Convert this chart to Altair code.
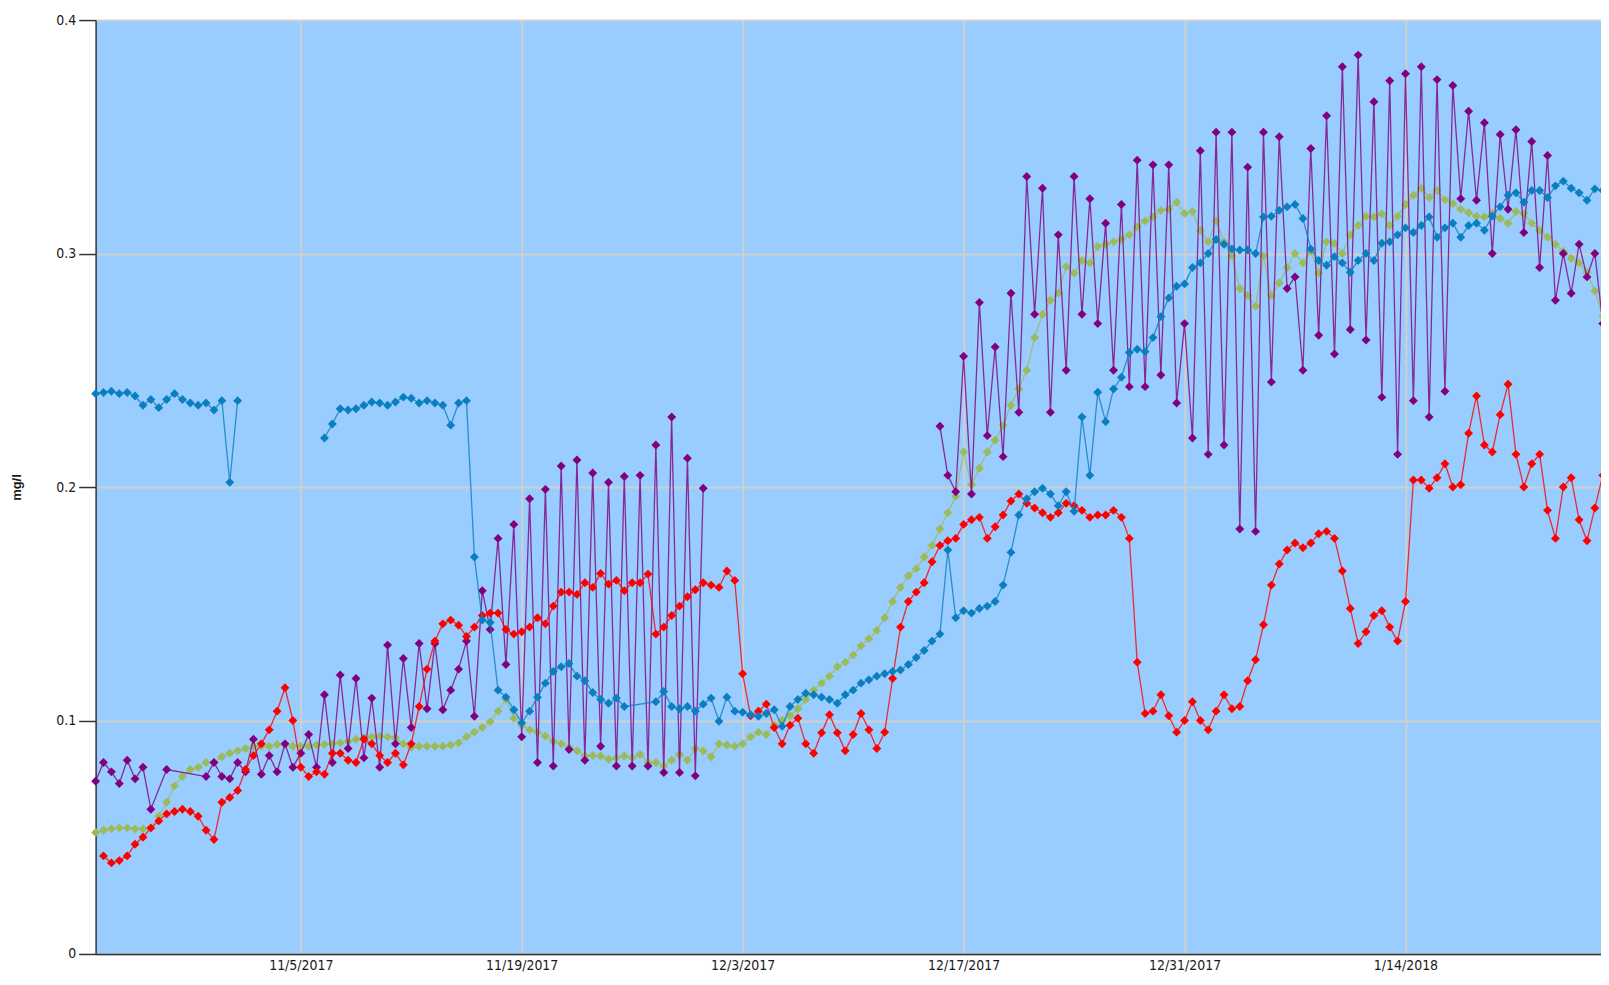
import altair as alt
import pandas as pd

# ---- data: one value every 12 hours starting 2017-10-23 00:00 (None = no reading) ----
START = pd.Timestamp("2017-10-23 00:00")
STEP_HOURS = 12

blue = [
    0.240, 0.2405, 0.241, 0.240, 0.2405, 0.239, 0.235, 0.2375, 0.234, 0.2375,
    0.240, 0.2375, 0.236, 0.235, 0.236, 0.233, 0.237, 0.202, 0.237, None,
    None, None, None, None, None, None, None, None, None, 0.221,
    0.227, 0.2335, 0.233, 0.2335, 0.235, 0.2364, 0.236, 0.235, 0.2364, 0.2385,
    0.238, 0.236, 0.237, 0.236, 0.235, 0.2265, 0.236, 0.237, 0.170, 0.143,
    0.142, 0.113, 0.110, 0.1046, 0.099, 0.104, 0.110, 0.116, 0.121, 0.123,
    0.1244, 0.119, 0.117, 0.112, 0.109, 0.1074, 0.1096, 0.106, None, None,
    None, 0.108, 0.1124, 0.106, 0.105, 0.106, 0.104, 0.107, 0.1096, 0.0997,
    0.110, 0.104, 0.1035, 0.1025, 0.1018, 0.103, 0.1046, 0.0975, 0.106, 0.109,
    0.1117, 0.111, 0.110, 0.109, 0.1074, 0.111, 0.113, 0.116, 0.1174, 0.119,
    0.120, 0.121, 0.1216, 0.124, 0.127, 0.130, 0.134, 0.137, 0.173, 0.144,
    0.147, 0.146, 0.148, 0.149, 0.151, 0.158, 0.172, 0.188, 0.195, 0.198,
    0.1995, 0.197, 0.192, 0.198, 0.1896, 0.230, 0.205, 0.2406, 0.228, 0.242,
    0.247, 0.2576, 0.259, 0.258, 0.264, 0.273, 0.281, 0.286, 0.287, 0.294,
    0.296, 0.300, 0.306, 0.304, 0.302, 0.3015, 0.3015, 0.300, 0.3157, 0.316,
    0.3185, 0.320, 0.321, 0.315, 0.302, 0.297, 0.295, 0.2987, 0.296, 0.292,
    0.297, 0.300, 0.297, 0.3044, 0.305, 0.308, 0.311, 0.309, 0.312, 0.3157,
    0.307, 0.311, 0.313, 0.307, 0.312, 0.313, 0.310, 0.316, 0.320, 0.325,
    0.326, 0.322, 0.327, 0.327, 0.324, 0.329, 0.331, 0.328, 0.326, 0.3228,
    0.3277, 0.327,
]

red = [
    None, 0.042, 0.039, 0.040, 0.042, 0.047, 0.050, 0.054, 0.057, 0.060,
    0.061, 0.062, 0.061, 0.059, 0.053, 0.049, 0.065, 0.067, 0.070, 0.079,
    0.085, 0.090, 0.096, 0.104, 0.114, 0.100, 0.080, 0.076, 0.078, 0.077,
    0.086, 0.086, 0.083, 0.082, 0.092, 0.090, 0.085, 0.082, 0.086, 0.081,
    0.090, 0.106, 0.122, 0.134, 0.1414, 0.143, 0.1408, 0.136, 0.140, 0.145,
    0.146, 0.146, 0.139, 0.137, 0.138, 0.140, 0.144, 0.1414, 0.149, 0.155,
    0.155, 0.154, 0.159, 0.157, 0.163, 0.1584, 0.160, 0.1556, 0.159, 0.159,
    0.1627, 0.137, 0.140, 0.145, 0.149, 0.153, 0.156, 0.159, 0.158, 0.157,
    0.164, 0.160, 0.120, 0.102, 0.104, 0.107, 0.097, 0.090, 0.098, 0.101,
    0.090, 0.086, 0.0947, 0.1025, 0.0947, 0.087, 0.094, 0.103, 0.096, 0.088,
    0.095, 0.118, 0.140, 0.151, 0.155, 0.159, 0.168, 0.175, 0.177, 0.178,
    0.184, 0.186, 0.187, 0.178, 0.183, 0.188, 0.194, 0.197, 0.193, 0.191,
    0.189, 0.187, 0.189, 0.193, 0.192, 0.190, 0.187, 0.188, 0.188, 0.190,
    0.187, 0.178, 0.125, 0.103, 0.104, 0.111, 0.102, 0.095, 0.100, 0.108,
    0.100, 0.096, 0.104, 0.111, 0.105, 0.106, 0.117, 0.126, 0.141, 0.158,
    0.167, 0.173, 0.176, 0.174, 0.176, 0.180, 0.181, 0.178, 0.164, 0.148,
    0.133, 0.138, 0.145, 0.147, 0.140, 0.134, 0.151, 0.203, 0.203, 0.1995,
    0.204, 0.210, 0.200, 0.201, 0.223, 0.239, 0.218, 0.215, 0.231, 0.244,
    0.214, 0.200, 0.210, 0.214, 0.190, 0.178, 0.200, 0.204, 0.186, 0.177,
    0.191, 0.205,
]

green = [
    0.052, 0.053, 0.0536, 0.054, 0.054, 0.0536, 0.0536, 0.054, 0.059, 0.065,
    0.072, 0.076, 0.079, 0.080, 0.082, 0.082, 0.0845, 0.086, 0.087, 0.088,
    0.089, 0.089, 0.089, 0.0897, 0.0897, 0.089, 0.089, 0.089, 0.0895, 0.0897,
    0.090, 0.0904, 0.091, 0.092, 0.0926, 0.093, 0.0933, 0.093, 0.0926, 0.090,
    0.0885, 0.089, 0.089, 0.089, 0.089, 0.0895, 0.0904, 0.093, 0.095, 0.097,
    0.0995, 0.104, 0.109, 0.101, 0.098, 0.096, 0.095, 0.0933, 0.091, 0.090,
    0.0885, 0.087, 0.0848, 0.085, 0.0848, 0.0834, 0.084, 0.0848, 0.084, 0.0855,
    0.082, 0.082, 0.0805, 0.083, 0.0855, 0.083, 0.088, 0.087, 0.0845, 0.090,
    0.0895, 0.089, 0.090, 0.093, 0.095, 0.094, 0.098, 0.100, 0.102, 0.105,
    0.109, 0.113, 0.116, 0.119, 0.123, 0.125, 0.128, 0.132, 0.135, 0.1386,
    0.144, 0.151, 0.157, 0.162, 0.165, 0.170, 0.175, 0.182, 0.189, 0.196,
    0.215, 0.201, 0.208, 0.215, 0.220, 0.2264, 0.235, 0.242, 0.250, 0.264,
    0.274, 0.280, 0.283, 0.2944, 0.2916, 0.297, 0.296, 0.303, 0.304, 0.305,
    0.306, 0.308, 0.3114, 0.314, 0.3157, 0.3185, 0.319, 0.322, 0.3171, 0.318,
    0.310, 0.305, 0.314, 0.305, 0.299, 0.285, 0.282, 0.2774, 0.299, 0.282,
    0.2874, 0.294, 0.300, 0.296, 0.301, 0.2916, 0.305, 0.3044, 0.300, 0.308,
    0.312, 0.316, 0.3157, 0.317, 0.312, 0.316, 0.321, 0.325, 0.328, 0.324,
    0.327, 0.323, 0.3214, 0.319, 0.3175, 0.316, 0.3157, 0.3171, 0.315, 0.313,
    0.318, 0.317, 0.313, 0.310, 0.307, 0.304, 0.301, 0.298, 0.296, 0.292,
    0.284, 0.273,
]

purple = [
    0.074, 0.082, 0.078, 0.073, 0.083, 0.075, 0.080, 0.062, None, 0.079,
    None, None, None, None, 0.076, 0.082, 0.076, 0.075, 0.082, 0.078,
    0.092, 0.077, 0.085, 0.078, 0.090, 0.080, 0.086, 0.094, 0.080, 0.111,
    0.082, 0.1195, 0.088, 0.118, 0.084, 0.1096, 0.080, 0.1323, 0.090, 0.1266,
    0.097, 0.133, 0.105, 0.133, 0.1046, 0.113, 0.122, 0.134, 0.1018, 0.1556,
    0.139, 0.178, 0.124, 0.184, 0.093, 0.195, 0.082, 0.199, 0.0805, 0.209,
    0.0876, 0.2116, 0.083, 0.206, 0.089, 0.202, 0.0805, 0.2045, 0.0805, 0.205,
    0.0805, 0.218, 0.0777, 0.230, 0.0777, 0.2123, 0.0763, 0.1995, None, None,
    None, None, None, None, None, None, None, None, None, None,
    None, None, None, None, None, None, None, None, None, None,
    None, None, None, None, None, None, None, 0.226, 0.205, 0.198,
    0.256, 0.197, 0.279, 0.222, 0.260, 0.213, 0.283, 0.232, 0.333, 0.274,
    0.328, 0.232, 0.308, 0.250, 0.333, 0.274, 0.3235, 0.270, 0.313, 0.250,
    0.321, 0.243, 0.340, 0.243, 0.338, 0.248, 0.338, 0.236, 0.270, 0.221,
    0.344, 0.214, 0.352, 0.218, 0.352, 0.182, 0.337, 0.181, 0.352, 0.245,
    0.350, 0.285, 0.290, 0.250, 0.345, 0.265, 0.359, 0.257, 0.380, 0.2675,
    0.385, 0.263, 0.365, 0.2385, 0.374, 0.214, 0.377, 0.237, 0.380, 0.230,
    0.3745, 0.241, 0.372, 0.3235, 0.361, 0.3228, 0.356, 0.300, 0.351, 0.319,
    0.353, 0.309, 0.348, 0.294, 0.342, 0.280, 0.300, 0.283, 0.304, 0.290,
    0.300, 0.270,
]

# drawing order (bottom to top) and colours
series_names = ["green", "purple", "red", "blue"]
series_values = {"green": green, "purple": purple, "red": red, "blue": blue}
series_colors = {"green": "#9bbb59", "purple": "#800080", "red": "#ff0000", "blue": "#0a7fbf"}

x_tick_dates = [(2017, 11, 5), (2017, 11, 19), (2017, 12, 3), (2017, 12, 17), (2017, 12, 31), (2018, 1, 14)]
y_tick_values = [0, 0.1, 0.2, 0.3, 0.4]


def build_rows(name, values, gap_break=8):
    rows, seg, gap = [], 0, 0
    for i, v in enumerate(values):
        if v is None:
            gap += 1
            continue
        if gap >= gap_break and rows:
            seg += 1
        gap = 0
        rows.append({
            "series": name,
            "seg": f"{name}-{seg}",
            "time": START + pd.Timedelta(hours=STEP_HOURS * i),
            "value": v,
        })
    return rows


records = []
for n in series_names:
    records += build_rows(n, series_values[n])
df = pd.DataFrame(records)

NARROW = "DejaVu Sans Condensed, Liberation Sans Narrow, sans-serif"
GRID = "#cfcfcf"
AXIS = "#333333"

X = alt.X(
    "time:T",
    title=None,
    scale=alt.Scale(domain=[alt.DateTime(year=2017, month=10, date=23),
                            alt.DateTime(year=2018, month=1, date=26, hours=9, minutes=20)]),
    axis=alt.Axis(
        values=[alt.DateTime(year=y, month=m, date=d) for (y, m, d) in x_tick_dates],
        format="%-m/%-d/%Y", formatType="time",
        labelFont=NARROW, labelFontSize=14, labelColor="#1a1a1a",
        labelPadding=5, labelFlush=False, labelOverlap=False,
        ticks=False, grid=True, gridColor=GRID, gridWidth=2,
        domainColor=AXIS, domainWidth=1.5,
    ),
)
Y = alt.Y(
    "value:Q",
    title="mg/l",
    scale=alt.Scale(domain=[0, 0.4], nice=False, zero=True),
    axis=alt.Axis(
        values=y_tick_values, format=".1~f",
        labelFont=NARROW, labelFontSize=14, labelColor="#1a1a1a", labelPadding=3,
        labelFlush=False,
        tickSize=17, tickColor=AXIS, tickWidth=1.5,
        grid=True, gridColor=GRID, gridWidth=2,
        domainColor=AXIS, domainWidth=1.5,
        titleFont="Liberation Sans", titleFontSize=13, titleFontWeight="bold",
        titleColor="#1a1a1a", titleAngle=270, titleAlign="center",
        titleBaseline="middle", titleX=-79, titleY=469,
    ),
)

layers = []
for n in series_names:
    c = series_colors[n]
    base = alt.Chart(df).transform_filter(alt.datum.series == n)
    layers.append(
        base.mark_line(color=c, strokeWidth=1.3, opacity=0.8).encode(x=X, y=Y, detail="seg:N")
    )
    layers.append(
        base.mark_point(shape="diamond", filled=True, size=80, color=c, opacity=1).encode(x=X, y=Y)
    )

chart = (
    alt.layer(*layers)
    .properties(
        width=1512,
        height=938,
        autosize=alt.AutoSizeParams(type="none"),
        padding={"left": 88, "top": 10, "right": 0, "bottom": 20},
        background="white",
    )
    .configure_view(fill="#99ccff", stroke="transparent")
)

chart.save("out.html", embed_options={"renderer": "svg", "actions": False})
